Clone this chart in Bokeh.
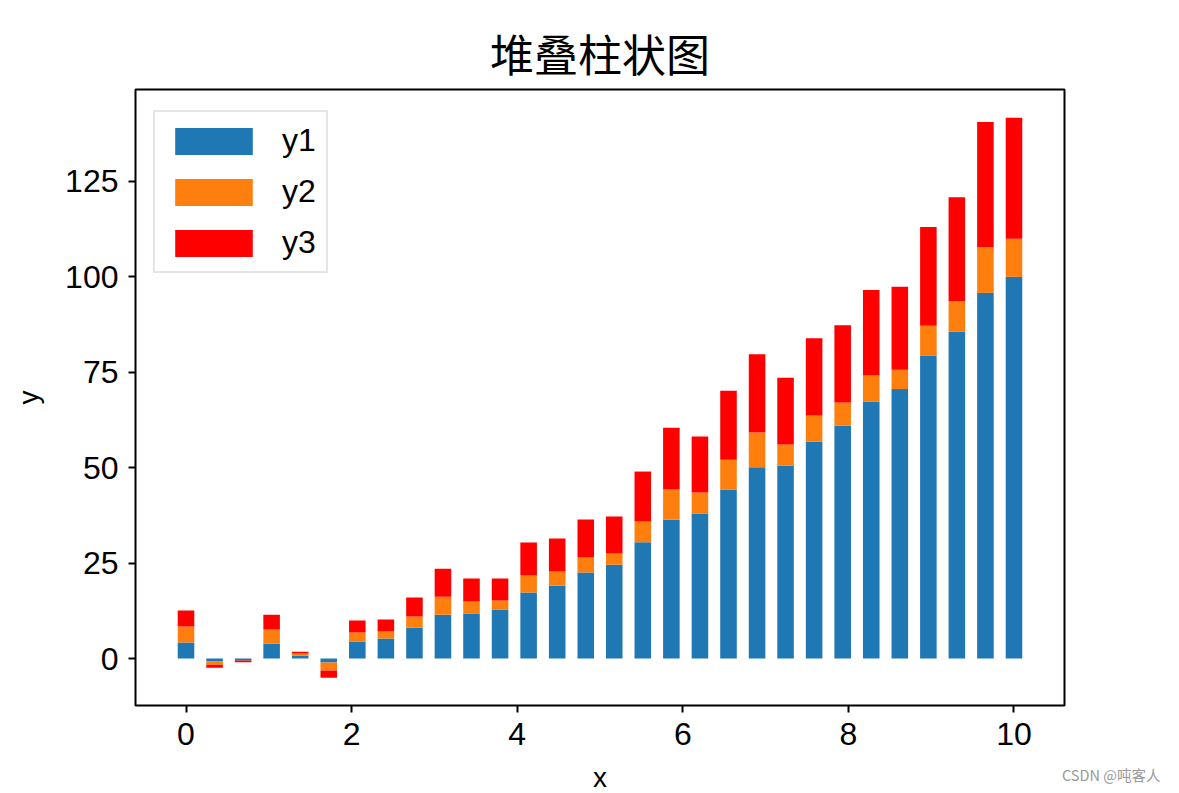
from bokeh.plotting import figure
from bokeh.models import ColumnDataSource, FixedTicker, Legend, LegendItem
from bokeh.embed import file_html
from bokeh.resources import INLINE

# ---- data ----
x = [0.0, 0.345, 0.690, 1.034, 1.379, 1.724, 2.069, 2.414, 2.759, 3.103,
     3.448, 3.793, 4.138, 4.483, 4.828, 5.172, 5.517, 5.862, 6.207, 6.552,
     6.897, 7.241, 7.586, 7.931, 8.276, 8.621, 8.966, 9.310, 9.655, 10.0]
y1 = [4.2, -0.8, -0.5, 3.9, 0.8, -1.05, 4.45, 5.25, 8.1, 11.5,
      11.8, 12.85, 17.3, 19.1, 22.55, 24.6, 30.5, 36.4, 38.0, 44.3,
      50.1, 50.6, 56.9, 61.0, 67.25, 70.6, 79.4, 85.7, 95.8, 100.0]
y2 = [4.2, -0.8, 0.0, 3.7, 0.5, -2.1, 2.35, 1.85, 2.9, 4.7,
      3.15, 2.35, 4.45, 3.7, 3.95, 2.9, 5.4, 7.9, 5.5, 7.8,
      9.1, 5.5, 6.8, 6.1, 6.9, 5.1, 7.8, 8.0, 12.0, 10.0]
y3 = [4.2, -0.8, -0.5, 3.9, 0.5, -1.85, 3.15, 3.15, 5.0, 7.35,
      6.0, 5.75, 8.65, 8.65, 9.95, 9.7, 13.1, 16.2, 14.7, 18.1,
      20.5, 17.5, 20.2, 20.2, 22.4, 21.7, 25.9, 27.2, 32.8, 31.7]
series = ["y1", "y2", "y3"]
colors = ["#1f77b4", "#ff7f0e", "#ff0000"]
x_ticks = [0, 2, 4, 6, 8, 10]
y_ticks = [0, 25, 50, 75, 100, 125]
watermark = "CSDN @吨客人"

source = ColumnDataSource(data=dict(x=x, y1=y1, y2=y2, y3=y3))

p = figure(width=1179, height=793, frame_width=929, frame_height=616,
           output_backend="svg", toolbar_location=None,
           x_range=(-0.61, 10.61), y_range=(-12.3, 149.1),
           min_border_left=135, min_border_right=115,
           min_border_top=89, min_border_bottom=88)

renderers = p.vbar_stack(series, x="x", width=0.2, color=colors, source=source,
                         line_color=None)

p.title.text = "堆叠柱状图"
p.title.text_font = "Noto Sans CJK SC"
p.title.text_font_size = "44px"
p.title.text_font_style = "normal"
p.title.text_color = "black"
p.title.align = "center"
p.title.standoff = 9

p.xgrid.visible = False
p.ygrid.visible = False
p.outline_line_color = "black"
p.outline_line_width = 2
p.outline_line_alpha = 1.0

for ax in (p.xaxis[0], p.yaxis[0]):
    ax.axis_line_color = None
    ax.major_tick_line_color = "black"
    ax.major_tick_line_width = 2
    ax.major_tick_in = 0
    ax.major_tick_out = 7
    ax.minor_tick_line_color = None
    ax.major_label_text_font = "Liberation Sans"
    ax.major_label_text_font_size = "32px"
    ax.major_label_text_color = "black"
    ax.axis_label_text_font = "Liberation Sans"
    ax.axis_label_text_font_size = "28px"
    ax.axis_label_text_font_style = "normal"
    ax.axis_label_text_color = "black"

p.xaxis.ticker = FixedTicker(ticks=x_ticks)
p.yaxis.ticker = FixedTicker(ticks=y_ticks)
p.xaxis.axis_label = "x"
p.yaxis.axis_label = "y"
p.xaxis.major_label_standoff = 10
p.yaxis.major_label_standoff = 10
p.xaxis.axis_label_standoff = 14
p.yaxis.axis_label_standoff = 18

legend = Legend(items=[LegendItem(label=s, renderers=[r]) for s, r in zip(series, renderers)],
                location=(18, 432), margin=0, padding=10, spacing=14,
                glyph_width=97, glyph_height=34, label_standoff=20,
                label_text_font="Liberation Sans", label_text_font_size="32px",
                label_text_color="black",
                border_line_color="#cccccc", border_line_width=2,
                background_fill_alpha=0.8)
p.add_layout(legend)

# watermark: a glyph-less legend placed in the right side panel (not clipped)
dummy = p.scatter(x=[], y=[], size=0, alpha=0)
wm = Legend(items=[LegendItem(label=watermark, renderers=[dummy])],
            location=(-2, -80), margin=0, padding=0, spacing=0,
            glyph_width=0, glyph_height=16, label_standoff=0, label_height=16,
            label_text_font="Noto Sans CJK SC", label_text_font_size="14.5px",
            label_text_color="#999999", border_line_color=None,
            background_fill_alpha=0)
p.add_layout(wm, "right")

open("out.html", "w").write(file_html(p, INLINE))
